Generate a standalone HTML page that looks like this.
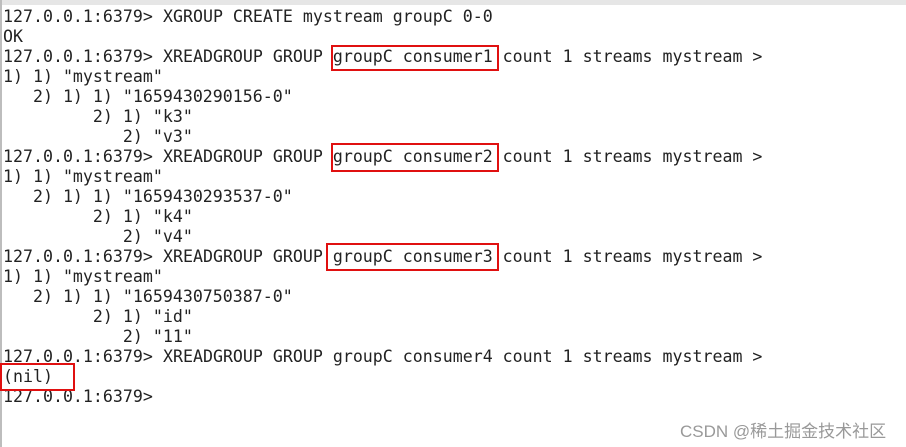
<!DOCTYPE html>
<html><head><meta charset="utf-8"><style>
body{margin:0;width:906px;height:447px;background:#fff;position:relative;overflow:hidden}
.top{position:absolute;left:0;top:0;width:906px;height:5px;background:#e6e6e6}
.lb{position:absolute;left:0;top:0;width:2px;height:447px;background:#bdbdbd}
.l{position:absolute;left:3px;font-family:"DejaVu Sans Mono","Liberation Mono",monospace;font-size:16.6px;line-height:20px;white-space:pre;color:#222}
.p{display:inline-block;width:160px}
.b{position:absolute;border:2px solid #e01010;box-sizing:border-box}
.wm{position:absolute;left:680px;top:417px;font-family:"Liberation Sans","Noto Sans CJK SC",sans-serif;font-size:17px;color:#999;white-space:nowrap}
</style></head><body>
<div class="top"></div><div class="lb"></div>
<div class="l" style="top:7px"><span class="p">127.0.0.1:6379&gt;</span>XGROUP CREATE mystream groupC 0-0</div>
<div class="l" style="top:27px">OK</div>
<div class="l" style="top:47px"><span class="p">127.0.0.1:6379&gt;</span>XREADGROUP GROUP groupC consumer1 count 1 streams mystream &gt;</div>
<div class="l" style="top:67px">1) 1) "mystream"</div>
<div class="l" style="top:87px">   2) 1) 1) "1659430290156-0"</div>
<div class="l" style="top:107px">         2) 1) "k3"</div>
<div class="l" style="top:127px">            2) "v3"</div>
<div class="l" style="top:147px"><span class="p">127.0.0.1:6379&gt;</span>XREADGROUP GROUP groupC consumer2 count 1 streams mystream &gt;</div>
<div class="l" style="top:167px">1) 1) "mystream"</div>
<div class="l" style="top:187px">   2) 1) 1) "1659430293537-0"</div>
<div class="l" style="top:207px">         2) 1) "k4"</div>
<div class="l" style="top:227px">            2) "v4"</div>
<div class="l" style="top:247px"><span class="p">127.0.0.1:6379&gt;</span>XREADGROUP GROUP groupC consumer3 count 1 streams mystream &gt;</div>
<div class="l" style="top:267px">1) 1) "mystream"</div>
<div class="l" style="top:287px">   2) 1) 1) "1659430750387-0"</div>
<div class="l" style="top:307px">         2) 1) "id"</div>
<div class="l" style="top:327px">            2) "11"</div>
<div class="l" style="top:347px"><span class="p">127.0.0.1:6379&gt;</span>XREADGROUP GROUP groupC consumer4 count 1 streams mystream &gt;</div>
<div class="l" style="top:367px">(nil)</div>
<div class="l" style="top:387px"><span class="p">127.0.0.1:6379&gt;</span></div>
<div class="b" style="left:331px;top:45px;width:168px;height:26px"></div>
<div class="b" style="left:331px;top:143px;width:168px;height:29px"></div>
<div class="b" style="left:326px;top:243px;width:173px;height:28px"></div>
<div class="b" style="left:0px;top:363px;width:75px;height:28px"></div>
<div class="wm">CSDN @稀土掘金技术社区</div>
</body></html>
